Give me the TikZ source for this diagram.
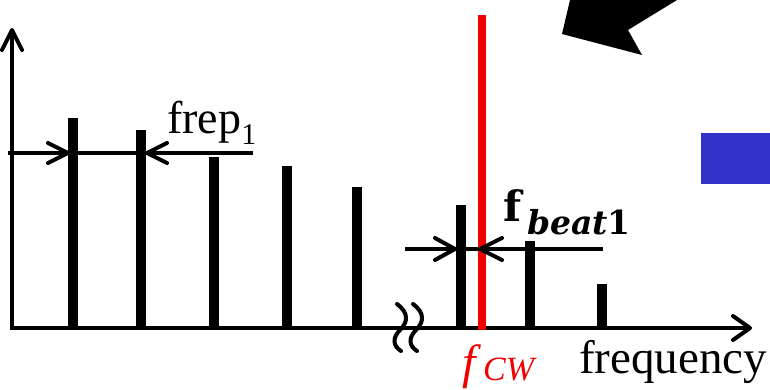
\documentclass[tikz,border=0pt]{standalone}
\usepackage{fontspec}
\setmainfont{Liberation Serif}
\newfontfamily\djs{DejaVu Serif}
\definecolor{bluebox}{RGB}{51,51,204}
\definecolor{redline}{RGB}{240,0,0}
\begin{document}
\begin{tikzpicture}[x=1pt,y=-1pt,
  axisline/.style={line width=4pt},
  bar/.style={line width=10pt},
  chev/.style={line width=4pt,line cap=round,line join=round},
  measline/.style={line width=4pt},
  lbl/.style={inner sep=0pt,anchor=base west}]
\useasboundingbox (0,0) rectangle (770,390);
% axes
\coordinate (O) at (12,328);
\coordinate (ytip) at (12,30);
\coordinate (xtip) at (750,328);
\draw[axisline] (12,330) -- (ytip);
\draw[axisline] (10,328) -- (xtip);
\draw[chev] (2,50) -- (ytip) -- (22,50);
\draw[chev] (733,316) -- (xtip) -- (733,340);
% bars
\foreach \x/\t in {73/118,141/130,214/157,287/166,357/187,461/205,530/241,602/284}
  \draw[bar] (\x,330) -- (\x,\t);
% red cw line
\draw[redline,line width=8pt] (482,15) -- (482,330);
% axis break squiggle
\foreach \dx in {0,16}
  \draw[line width=4pt,line cap=round] (397+\dx,304) .. controls (409+\dx,313) and (408+\dx,322) .. (400+\dx,330) .. controls (392+\dx,338) and (393+\dx,346) .. (401+\dx,351);
% frep measurement
\coordinate (fa) at (8,153);
\coordinate (fb) at (68,153);
\coordinate (fc) at (147,153);
\coordinate (fd) at (253,153);
\draw[measline] (fa) -- (fd);
\draw[chev] (48,143) -- (fb) -- (48,163);
\draw[chev] (167,143) -- (fc) -- (167,163);
\node[lbl] (frep) at (167,134) {\fontsize{46}{46}\selectfont frep\raisebox{-11pt}{\fontsize{30}{30}\selectfont 1}};
% fbeat measurement
\coordinate (ba) at (405,249);
\coordinate (bb) at (455,249);
\coordinate (bc) at (480,249);
\coordinate (bd) at (603,249);
\draw[measline] (ba) -- (bd);
\draw[chev] (435,238) -- (bb) -- (435,260);
\draw[chev] (502,238) -- (bc) -- (502,260);
\node[lbl] (fbeat) at (503,221) {\djs\fontsize{42}{42}\selectfont\bfseries f};
\node[lbl] (beat) at (527,234) {\djs\fontsize{33}{33}\selectfont\bfseries\itshape beat\upshape 1};
% labels
\node[lbl,text=redline] (fcw) at (462,378) {\fontsize{48}{48}\selectfont\itshape f};
\node[lbl,text=redline] (cw) at (483,380) {\fontsize{34}{34}\selectfont\itshape CW};
\node[lbl] (freq) at (579,373) {\fontsize{47}{47}\selectfont frequency};
% big arrow and blue box
\fill[black] (570,0) -- (677,0) -- (628,30) -- (642,55) -- (562,34) -- cycle;
\fill[bluebox] (701,133) rectangle (770,184);
\end{tikzpicture}
\end{document}
